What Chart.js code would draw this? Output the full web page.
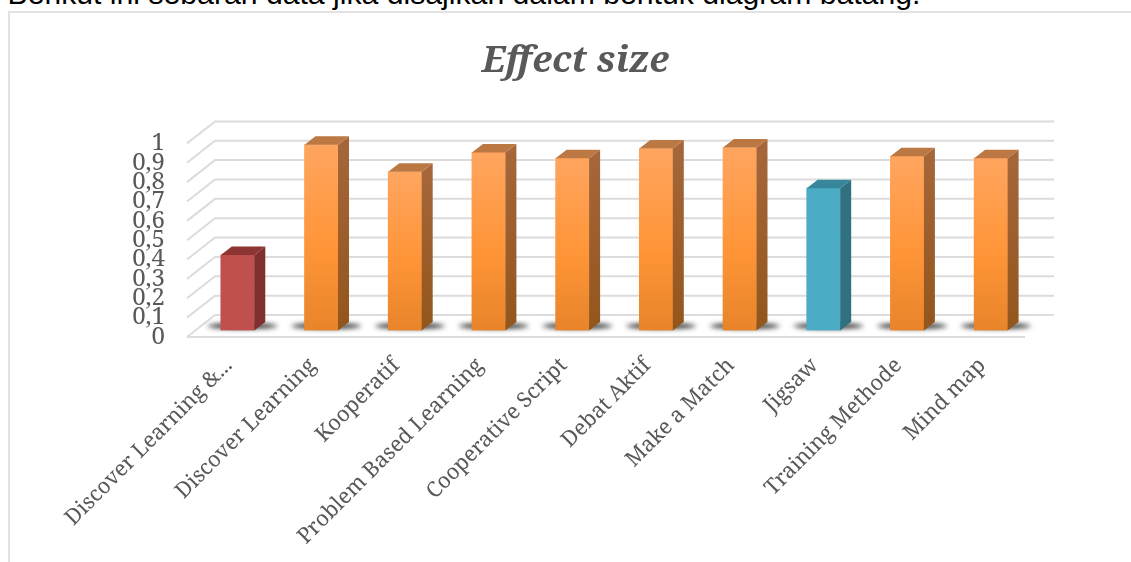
<!DOCTYPE html>
<html>
<head>
<meta charset="utf-8">
<script src="https://cdn.jsdelivr.net/npm/chart.js@4/dist/chart.umd.min.js"></script>
<style>
html,body{margin:0;padding:0;background:#fff;overflow:hidden;}
#wrap{position:relative;width:1131px;height:562px;overflow:hidden;}
#intro{position:absolute;left:7.5px;top:-23px;font:30.2px "Liberation Sans",Arial,sans-serif;color:#000;white-space:nowrap;}
#frame{position:absolute;left:8px;top:11px;width:1123px;height:551px;border-top:2px solid #e2e2e2;border-left:2px solid #e2e2e2;box-sizing:border-box;}
canvas{position:absolute;left:0;top:0;}
</style>
</head>
<body>
<div id="wrap">
	<div id="intro">Berikut ini sebaran data jika disajikan dalam bentuk diagram batang.</div>
	<div id="frame"></div>
	<canvas id="chart" width="1131" height="562"></canvas>
</div>
<script>
const chart_title = 'Effect size';
const categories = ['Discover Learning &...','Discover Learning','Kooperatif','Problem Based Learning','Cooperative Script','Debat Aktif','Make a Match','Jigsaw','Training Methode','Mind map'];
const effect_values = [0.39,0.96,0.82,0.92,0.89,0.94,0.945,0.735,0.90,0.89];
const value_ticks = [0,0.1,0.2,0.3,0.4,0.5,0.6,0.7,0.8,0.9,1];
const bar_kinds = ['red','orange','orange','orange','orange','orange','orange','blue','orange','orange'];

const serif_font = '"Noto Serif","DejaVu Serif","Liberation Serif",serif';
const kind_colors = {
	red:{top:'#c0504d',mid:'#c0504d',bottom:'#c0504d',side:'#7f2f2d',side_low:'#7f2f2d',cap:'#8e3432'},
	orange:{top:'#ffa55f',mid:'#ff9538',bottom:'#e8842a',side:'#a5663a',side_low:'#92561c',cap:'#bb7843'},
	blue:{top:'#4bacc6',mid:'#4bacc6',bottom:'#4bacc6',side:'#31707f',side_low:'#31707f',cap:'#38869b'}
};
const back = {x:28,y:-22};   // floor depth
const bar_shift = {x:8.7,y:-6.5};
const bar_depth = {x:11,y:-8.5};

/** Back wall, floor and side lines **/
const wall_plugin = {
	id:'wall',
	beforeDatasetsDraw(chart){
		const c = chart.ctx, y = chart.scales.y, a = chart.chartArea;
		c.save();
		c.strokeStyle = '#dcdcdc';
		c.lineWidth = 2;
		value_ticks.forEach(function(t){
			const py = y.getPixelForValue(t);
			c.beginPath();
			c.moveTo(a.left,py);
			c.lineTo(a.left+back.x,py+back.y);
			c.lineTo(a.right+back.x+2,py+back.y);
			c.stroke();
		});
		// front edge of the floor
		c.beginPath();
		c.moveTo(a.left,a.bottom);
		c.lineTo(a.right+1,a.bottom);
		c.stroke();
		c.restore();
	}
};

/** 3D faces and floor shadows around each bar **/
const bar3d_plugin = {
	id:'bar3d',
	beforeDatasetsDraw(chart){
		const c = chart.ctx;
		c.save();
		c.translate(bar_shift.x,bar_shift.y);
		chart.getDatasetMeta(0).data.forEach(function(bar){
			const p = bar.getProps(['x','y','base','width'],true);
			c.save();
			c.filter = 'blur(2.5px)';
			c.fillStyle = 'rgba(15,15,15,0.9)';
			c.beginPath();
			c.ellipse(p.x+5,p.base-4.5,35,2.8,0,0,Math.PI*2);
			c.fill();
			c.restore();
		});
		c.restore();
		// bars themselves sit a little behind the front of the floor
		c.save();
		c.translate(bar_shift.x,bar_shift.y);
	},
	afterDatasetsDraw(chart){
		const c = chart.ctx;
		chart.getDatasetMeta(0).data.forEach(function(bar,i){
			const p = bar.getProps(['x','y','base','width'],true);
			const l = p.x-p.width/2, r = p.x+p.width/2;
			const col = kind_colors[bar_kinds[i]];
			const side = c.createLinearGradient(0,p.y,0,p.base);
			side.addColorStop(0,col.side);
			side.addColorStop(1,col.side_low);
			c.fillStyle = side;
			c.beginPath();
			c.moveTo(r,p.y);
			c.lineTo(r+bar_depth.x,p.y+bar_depth.y);
			c.lineTo(r+bar_depth.x,p.base+bar_depth.y);
			c.lineTo(r,p.base);
			c.closePath();
			c.fill();
			c.fillStyle = col.cap;
			c.beginPath();
			c.moveTo(l,p.y);
			c.lineTo(l+bar_depth.x,p.y+bar_depth.y);
			c.lineTo(r+bar_depth.x,p.y+bar_depth.y);
			c.lineTo(r,p.y);
			c.closePath();
			c.fill();
		});
		c.restore();
	}
};

function bar_fill(ctx){
	const col = kind_colors[bar_kinds[ctx.dataIndex]];
	const a = ctx.chart.chartArea;
	if(!a) return col.mid;
	const y = ctx.chart.scales.y;
	const g = ctx.chart.ctx.createLinearGradient(0,y.getPixelForValue(effect_values[ctx.dataIndex]),0,a.bottom);
	g.addColorStop(0,col.top);
	g.addColorStop(0.55,col.mid);
	g.addColorStop(1,col.bottom);
	return g;
}

new Chart(document.getElementById('chart'),{
	type:'bar',
	data:{
		labels:categories,
		datasets:[{
			label:chart_title,
			data:effect_values,
			backgroundColor:bar_fill,
			barThickness:33.5,
			borderWidth:0
		}]
	},
	plugins:[wall_plugin,bar3d_plugin],
	options:{
		responsive:false,
		animation:false,
		layout:{padding:{left:127,right:107,top:39,bottom:0}},
		plugins:{
			legend:{display:false},
			tooltip:{enabled:false},
			title:{
				display:true,
				text:chart_title,
				color:'#595959',
				font:{family:serif_font,size:37,weight:'bold',style:'italic'},
				padding:{top:0,bottom:60}
			}
		},
		scales:{
			x:{
				grid:{display:false},
				border:{display:false},
				afterFit(scale){ scale.height = 225; },
				ticks:{
					autoSkip:false,
					maxRotation:45,
					minRotation:45,
					padding:8,
					color:'#595959',
					font:{family:serif_font,size:21.5}
				}
			},
			y:{
				min:0,
				max:1,
				grid:{display:false},
				border:{display:false},
				afterFit(scale){ scale.width = 60; },
				afterBuildTicks(scale){ scale.ticks = value_ticks.map(function(v){ return {value:v}; }); },
				ticks:{
					autoSkip:false,
					padding:14,
					color:'#595959',
					font:{family:serif_font,size:24},
					callback:function(v){ return String(v).replace('.',','); }
				}
			}
		}
	}
});
</script>
</body>
</html>
